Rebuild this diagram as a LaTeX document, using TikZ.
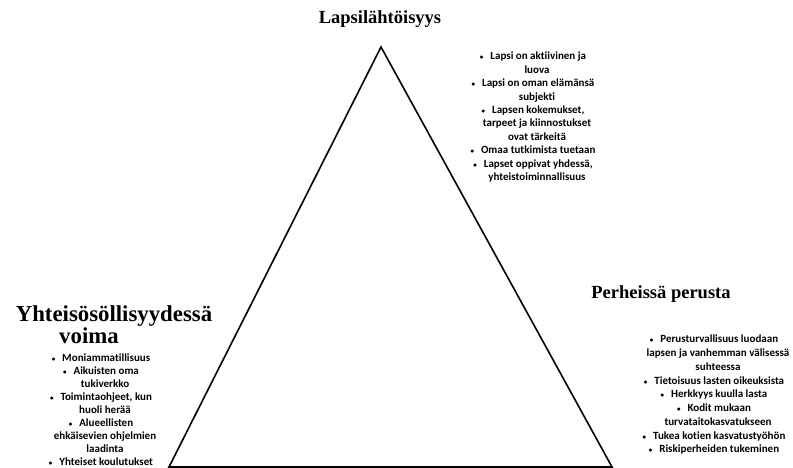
\documentclass[tikz,border=0pt]{standalone}
\usepackage{fontspec}
\setmainfont{Liberation Serif}
\newfontfamily\bodyfont[Ligatures={NoCommon}]{Carlito}
\newcommand{\myb}{{\fontsize{7}{7}\selectfont\textbullet}\hspace{7pt}}
\newcommand{\myc}{\hspace*{8pt}}
\begin{document}
\begin{tikzpicture}[x=1pt,y=-1pt]
\tikzset{
  head/.style={font=\fontsize{18.5}{20}\selectfont\bfseries, inner sep=0pt, anchor=base},
  bighead/.style={font=\fontsize{22.8}{24}\selectfont\bfseries, inner sep=0pt, anchor=base},
  list/.style={font=\bodyfont\bfseries\fontsize{11}{13.4}\selectfont, align=center, inner sep=0pt, anchor=north},
  tri/.style={line width=1.6pt, line join=miter}
}
\useasboundingbox (0,0) rectangle (793,468);
\fill[white] (0,0) rectangle (793,468);
\coordinate (apex) at (381,47);
\coordinate (bl) at (169,467);
\coordinate (br) at (612,467);
\draw[tri] (apex) -- (bl) -- (br) -- cycle;

\node[head] (t1) at (380,23.5) {Lapsilähtöisyys};
\node[head] (t2) at (661,298) {Perheissä perusta};
\node[bighead] (t3) at (114,321) {Yhteisösöllisyydessä};
\node[bighead] (t4) at (89,343) {voima};

\node[list] (l1) at (533,52) {\myb Lapsi on aktiivinen ja\\ \myc luova\\ \myb Lapsi on oman elämänsä\\ \myc subjekti\\ \myb Lapsen kokemukset,\\ \myc tarpeet ja kiinnostukset\\ \myc ovat tärkeitä\\ \myb Omaa tutkimista tuetaan\\ \myb Lapset oppivat yhdessä,\\ \myc yhteistoiminnallisuus};

\node[list, font=\bodyfont\bfseries\fontsize{11}{12.9}\selectfont] (l2) at (101,354) {\myb Moniammatillisuus\\ \myb Aikuisten oma\\ \myc tukiverkko\\ \myb Toimintaohjeet, kun\\ \myc huoli herää\\ \myb Alueellisten\\ \myc ehkäisevien ohjelmien\\ \myc laadinta\\ \myb Yhteiset koulutukset};

\node[list, font=\bodyfont\bfseries\fontsize{11}{13.75}\selectfont] (l3) at (714,335) {\myb Perusturvallisuus luodaan\\ \myc lapsen ja vanhemman välisessä\\ \myc suhteessa\\ \myb Tietoisuus lasten oikeuksista\\ \myb Herkkyys kuulla lasta\\ \myb Kodit mukaan\\ \myc turvataitokasvatukseen\\ \myb Tukea kotien kasvatustyöhön\\ \myb Riskiperheiden tukeminen};
\end{tikzpicture}
\end{document}
